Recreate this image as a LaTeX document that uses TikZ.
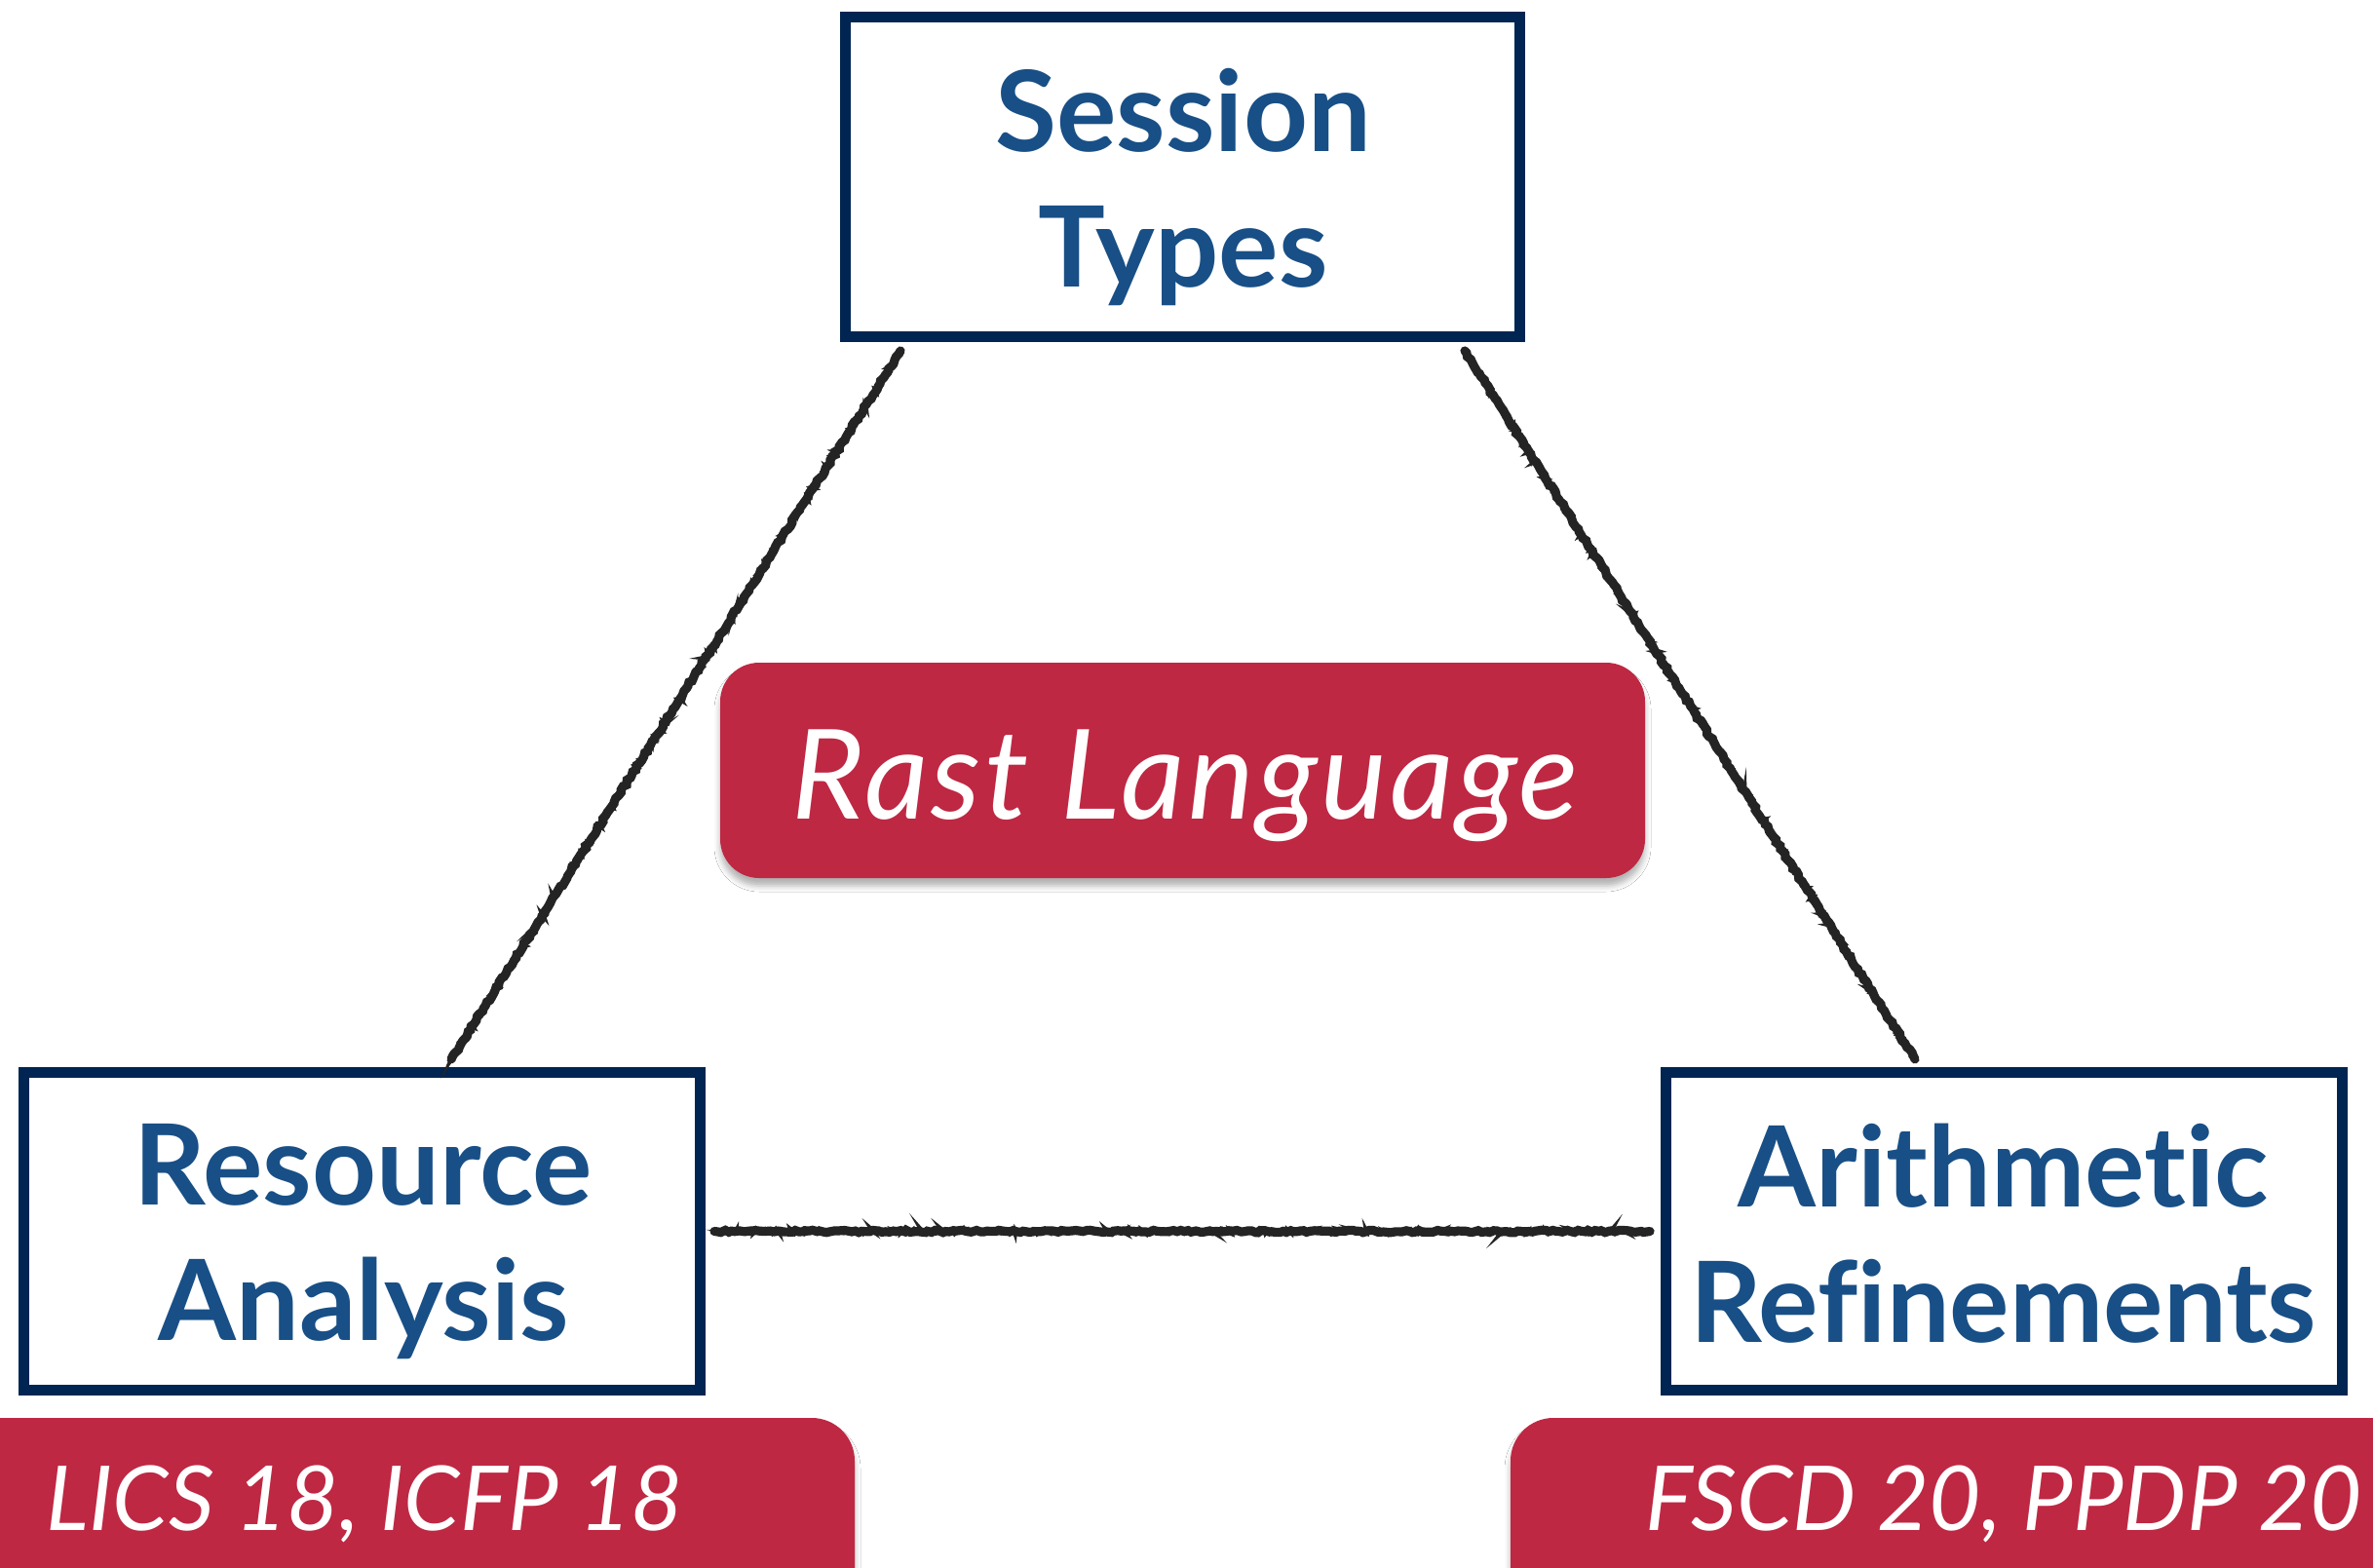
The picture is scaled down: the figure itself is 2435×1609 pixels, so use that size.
\documentclass[tikz,border=0pt]{standalone}
\usepackage{fontspec}
\setmainfont{Lato}[Ligatures={NoCommon,NoRare}]
\newfontfamily\rastfont{Lato}[Ligatures={NoCommon,NoRare}, LetterSpace=2.5]
\usetikzlibrary{calc,decorations.pathmorphing,shadows.blur}
\definecolor{navy}{HTML}{012552}
\definecolor{topicblue}{HTML}{184F86}
\definecolor{venuered}{HTML}{BE2843}
\definecolor{coal}{HTML}{242424}
\begin{document}
\begin{tikzpicture}[x=0.5pt,y=-0.5pt,
  topic/.style={draw=navy, line width=5.5pt, fill=white, inner sep=0pt},
  topictext/.style={text=topicblue, font=\bfseries\fontsize{57.5}{69.5}\selectfont, align=center, inner sep=0pt},
  venue/.style={fill=venuered, rounded corners=22pt, inner sep=0pt,
    blur shadow={shadow xshift=0pt, shadow yshift=-4pt, shadow blur radius=3pt, shadow opacity=30}},
  venuetext/.style={text=white, font=\itshape\fontsize{46}{55}\selectfont, inner sep=0pt},
  charcoal/.style={draw=coal, line width=4.6pt, line cap=round, decorate,
    decoration={random steps, segment length=1.8pt, amplitude=0.6pt}},
  charcoallight/.style={draw=coal, line width=2.2pt, decorate,
    decoration={random steps, segment length=1.2pt, amplitude=1.2pt}}]
\pgfmathsetseed{7}
\useasboundingbox (0,0) rectangle (2435,1609);
\fill[white] (0,0) rectangle (2435,1609);

% topic boxes
\node[topic, minimum width=346pt, minimum height=164pt] (st) at (1213.5,181.5) {};
\node[topictext] (stt) at (1214,192) {Session\\Types};
\node[topic, minimum width=347pt, minimum height=163pt] (ra) at (371.5,1263.5) {};
\node[topictext] (rat) at (373,1274) {Resource\\Analysis};
\node[topic, minimum width=347pt, minimum height=163pt] (ar) at (2056.5,1263.5) {};
\node[topictext] (art) at (2056,1265.5) {Arithmetic\\Refinements};

% connectors
\foreach \s in {charcoal,charcoallight}{
  \draw[\s] ($(st.south west)+(62,9)$) -- ($(ra.north west)+(444,-8)$);
  \draw[\s] ($(st.south east)+(-62,9)$) -- ($(ar.north west)+(261,-8)$);
  \draw[\s] ($(ra.east)+(9,0)$) -- ($(ar.west)+(-11,0)$);
}

% Rast language
\node[venue, rounded corners=20pt, minimum width=474.5pt, minimum height=110.5pt] (rl) at (1213.5,790.5) {};
\node[venuetext, font=\rastfont\itshape\fontsize{64}{72}\selectfont, anchor=base] (rlt) at (1216,840) {Rast Language};

% venues
\node[venue, minimum width=468.5pt, minimum height=122.5pt] (lb) at (408.5,1577.5) {};
\node[venuetext, anchor=base] (lt) at (374,1570) {LICS 18, ICFP 18};
\node[venue, minimum width=475pt, minimum height=122.5pt] (fb) at (2025,1577.5) {};
\node[venuetext, anchor=base] (ft) at (2056,1570) {FSCD 20, PPDP 20};
\end{tikzpicture}
\end{document}
